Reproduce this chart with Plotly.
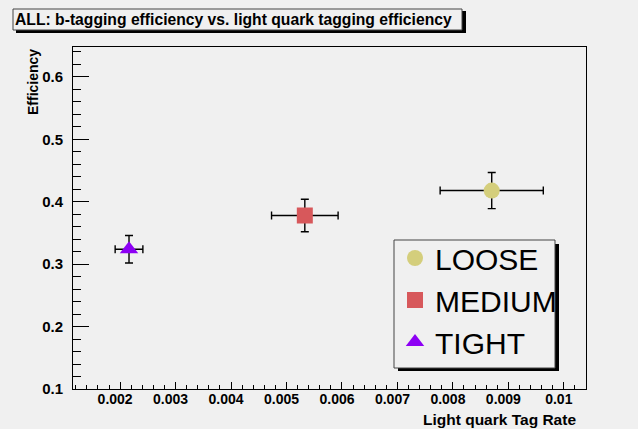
import plotly.graph_objects as go

# ---- data ----
labels = ["LOOSE", "MEDIUM", "TIGHT"]
light_rate = [0.0087, 0.00533, 0.00216]
light_rate_err = [0.00093, 0.0006, 0.00025]
b_eff = [0.418, 0.378, 0.324]
b_eff_err = [0.029, 0.026, 0.022]
symbols = ["circle", "square", "triangle-up"]
colors = ["#d4ce7c", "#d7585b", "#8d00f4"]
sizes = [16, 16, 16]

W, H = 638, 429
L, R, T, B = 73, 52, 47, 40
PW, PH = W - L - R, H - T - B


def px(xp):
    return (xp - L) / PW


def py(yp):
    return (H - B - yp) / PH


FONT = "Liberation Sans, Arial, Helvetica, sans-serif"

fig = go.Figure()
for i, lab in enumerate(labels):
    fig.add_trace(go.Scatter(
        x=[light_rate[i]], y=[b_eff[i]], mode="markers", name=lab,
        legendgroup=lab,
        marker=dict(symbol=symbols[i], color=colors[i], size=sizes[i], line=dict(width=0)),
        error_x=dict(type="data", array=[light_rate_err[i]], color="black", thickness=1.4, width=4),
        error_y=dict(type="data", array=[b_eff_err[i]], color="black", thickness=1.4, width=4),
    ))

shapes = []
# title box with shadow
shapes.append(dict(type="rect", xref="paper", yref="paper", x0=px(462), x1=px(466), y0=py(33), y1=py(11),
                   fillcolor="black", line=dict(width=0), layer="above"))
shapes.append(dict(type="rect", xref="paper", yref="paper", x0=px(16), x1=px(466), y0=py(33), y1=py(30),
                   fillcolor="black", line=dict(width=0), layer="above"))
shapes.append(dict(type="rect", xref="paper", yref="paper", x0=px(13), x1=px(462), y0=py(30), y1=py(9),
                   fillcolor="rgba(0,0,0,0)", line=dict(width=1, color="#444"), layer="above"))
# legend box with shadow
shapes.append(dict(type="rect", xref="paper", yref="paper", x0=px(555), x1=px(559), y0=py(371), y1=py(244),
                   fillcolor="black", line=dict(width=0), layer="above"))
shapes.append(dict(type="rect", xref="paper", yref="paper", x0=px(398), x1=px(559), y0=py(371), y1=py(368),
                   fillcolor="black", line=dict(width=0), layer="above"))
shapes.append(dict(type="rect", xref="paper", yref="paper", x0=px(394), x1=px(555), y0=py(368), y1=py(240),
                   fillcolor="#f0f0f0", line=dict(width=1, color="#444"), layer="above"))

annotations = [
    dict(text="ALL: b-tagging efficiency vs. light quark tagging efficiency", xref="paper", yref="paper",
         x=px(13), y=py(20), xanchor="left", yanchor="middle", showarrow=False,
         font=dict(family=FONT, size=15.7, color="black", weight="bold")),
    dict(text="Light quark Tag Rate", xref="paper", yref="paper",
         x=px(578), y=py(419), xanchor="right", yanchor="middle", showarrow=False,
         font=dict(family=FONT, size=15.5, color="black", weight="bold")),
    dict(text="Efficiency", xref="paper", yref="paper", textangle=-90,
         x=px(33), y=py(47), xanchor="center", yanchor="top", showarrow=False,
         font=dict(family=FONT, size=14, color="black", weight="bold")),
]

fig.update_layout(
    width=W, height=H,
    margin=dict(l=L, r=R, t=T, b=B, pad=0),
    paper_bgcolor="#f0f0f0", plot_bgcolor="#f0f0f0",
    font=dict(family=FONT, color="black"),
    shapes=shapes, annotations=annotations,
    showlegend=True,
    legend=dict(x=px(395), y=py(232), xanchor="left", yanchor="top",
                bgcolor="rgba(0,0,0,0)", borderwidth=0,
                font=dict(family=FONT, size=30, color="black"),
                itemsizing="trace", tracegroupgap=0),
    xaxis=dict(range=[0.00115, 0.0104], showgrid=False, zeroline=False,
               showline=True, linecolor="black", linewidth=1, mirror=True,
               ticks="inside", ticklen=7, tickcolor="black", dtick=0.001, tick0=0,
               tickformat="~g",
               minor=dict(ticks="inside", ticklen=4, dtick=0.0002, tickcolor="black", showgrid=False),
               tickfont=dict(family=FONT, size=14, color="black", weight="bold"),
               ticklabelshift=-5, ticklabelstandoff=-3),
    yaxis=dict(range=[0.1, 0.648], showgrid=False, zeroline=False,
               showline=True, linecolor="black", linewidth=1, mirror=True,
               ticks="inside", ticklen=16, tickcolor="black", dtick=0.1, tick0=0,
               minor=dict(ticks="inside", ticklen=8, dtick=0.02, tickcolor="black", showgrid=False),
               tickfont=dict(family=FONT, size=15, color="black", weight="bold"),
               ticklabelstandoff=6),
)

fig.write_html("out.html", config={"displayModeBar": False},
               post_script="document.body.style.margin='0';document.body.style.background='#f0f0f0';")
